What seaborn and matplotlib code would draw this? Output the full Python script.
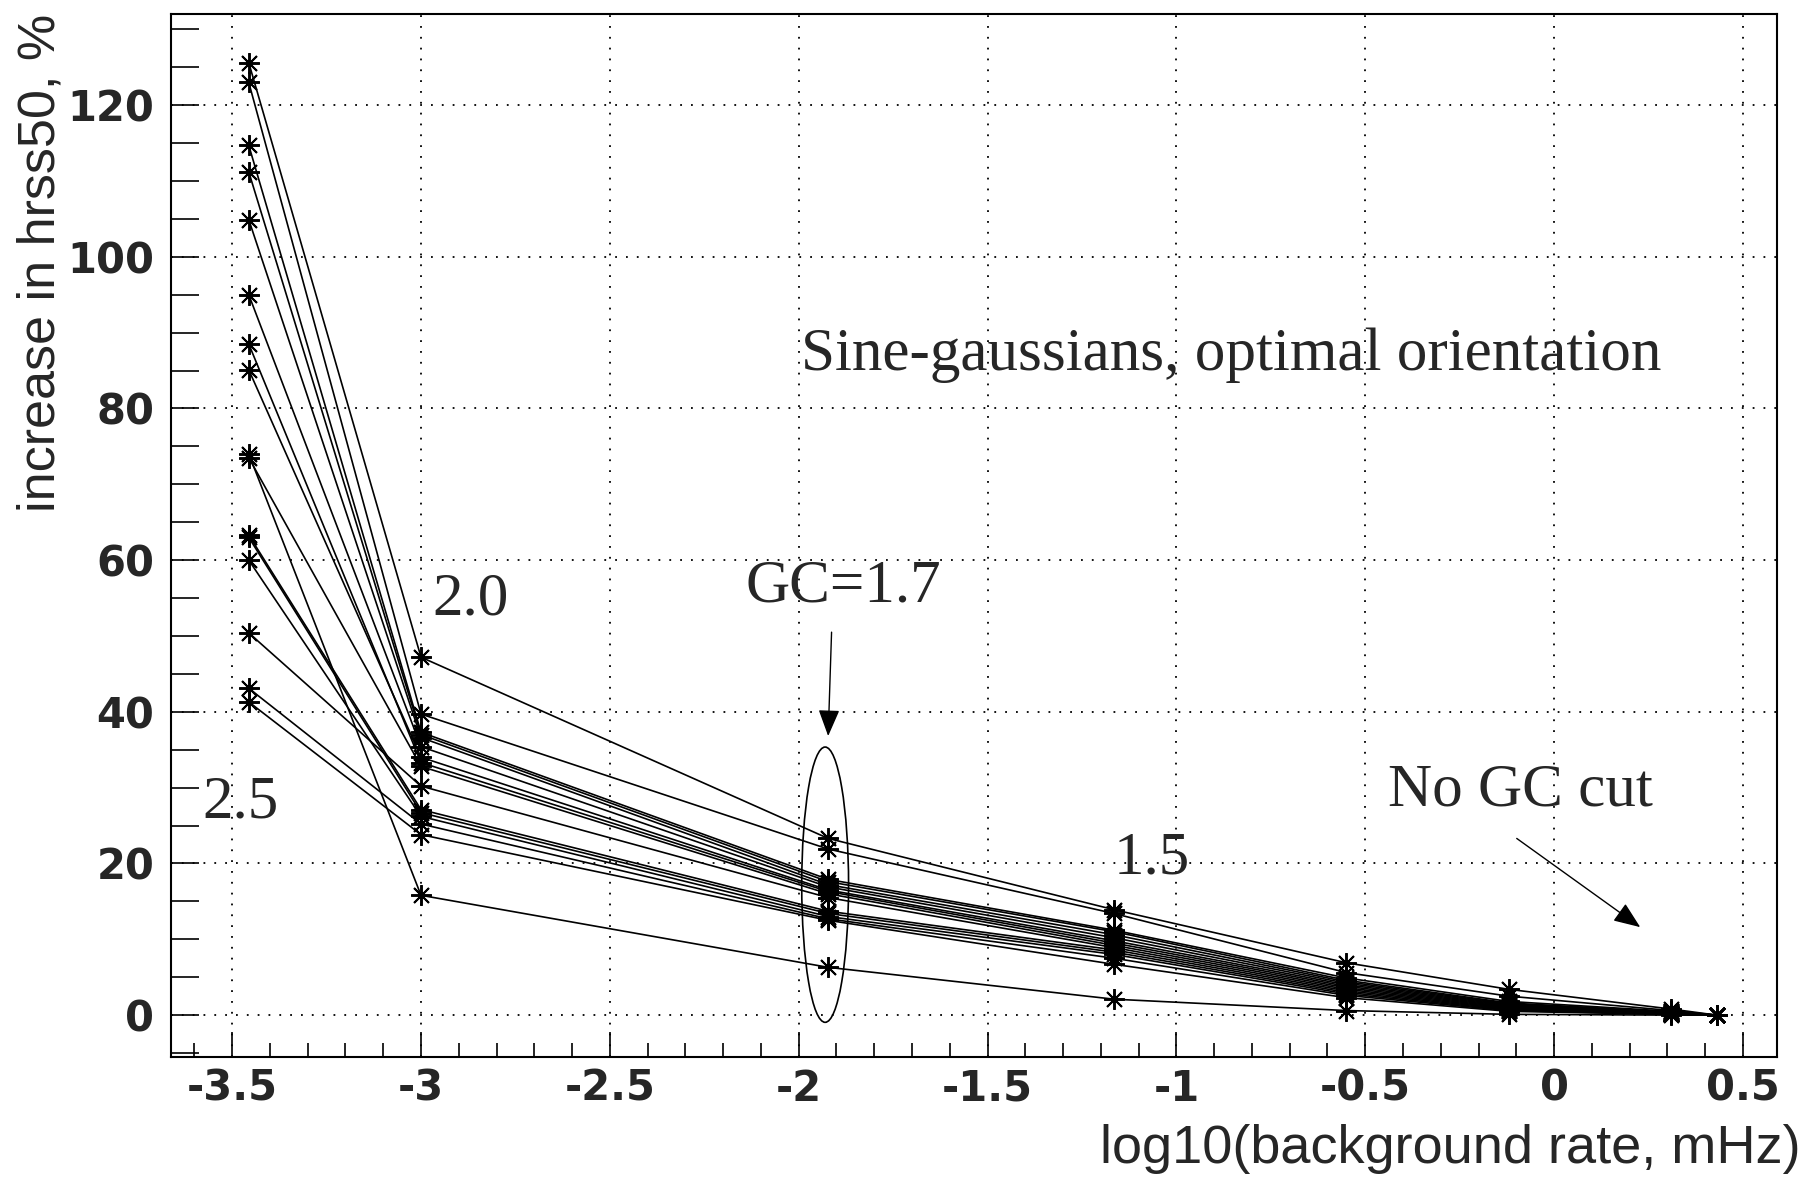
import numpy as np
import pandas as pd
import matplotlib
matplotlib.use("Agg")
import matplotlib.pyplot as plt
import seaborn as sns
from matplotlib.patches import Ellipse
from matplotlib.ticker import MultipleLocator, FuncFormatter

# log10(background rate, mHz) for each GC threshold (2.5, 2.0, 1.7, 1.5, ..., no cut)
log_rate = [-3.456, -3.0, -1.922, -1.165, -0.55, -0.12, 0.31, 0.43]

# increase in hrss50 (%) per waveform, one list per GC threshold
inc_gc2p5 = [125.6, 123.0, 114.7, 111.2, 104.9, 95.0, 85.1, 88.5, 73.5, 50.4, 63.3, 63.0, 60.0, 43.1, 41.3, 74.0]
inc_gc2p0 = [47.2, 39.7, 37.3, 37.0, 36.6, 35.4, 34.0, 33.3, 32.8, 30.2, 27.1, 26.7, 26.2, 25.2, 23.8, 15.8]
inc_gc1p7 = [23.3, 21.9, 17.9, 17.6, 17.2, 16.9, 16.5, 16.3, 16.0, 15.5, 13.7, 13.4, 13.0, 12.7, 12.5, 6.3]
inc_gc1p5 = [13.9, 13.4, 11.2, 11.0, 10.6, 10.2, 9.8, 9.5, 9.2, 8.9, 8.6, 8.3, 8.0, 7.5, 6.7, 2.1]
inc_cut5 = [6.9, 5.6, 4.9, 4.6, 4.4, 4.2, 4.0, 3.8, 3.6, 3.4, 3.2, 3.0, 2.8, 2.6, 2.3, 0.6]
inc_cut6 = [3.4, 2.5, 1.8, 1.6, 1.5, 1.4, 1.3, 1.2, 1.1, 1.0, 0.9, 0.8, 0.7, 0.6, 0.5, 0.1]
inc_cut7 = [0.8, 0.6, 0.5, 0.4, 0.4, 0.3, 0.3, 0.3, 0.2, 0.2, 0.2, 0.1, 0.1, 0.1, 0.1, 0.0]
inc_nocut = [0.0] * 16

columns = [inc_gc2p5, inc_gc2p0, inc_gc1p7, inc_gc1p5, inc_cut5, inc_cut6, inc_cut7, inc_nocut]
rows = []
for w in range(len(inc_gc2p5)):
    for xv, col in zip(log_rate, columns):
        rows.append({"rate": xv, "inc": col[w], "wf": w})
df = pd.DataFrame(rows)

sns.set_style("ticks")
plt.rcParams["axes.unicode_minus"] = False
plt.rcParams["font.family"] = ["Liberation Sans", "DejaVu Sans"]

fig = plt.figure(figsize=(18.11, 11.78), dpi=100)
ax = fig.add_axes([0.0944, 0.103, 0.981 - 0.0944, 0.988 - 0.103])

sns.lineplot(data=df, x="rate", y="inc", units="wf", estimator=None, sort=False,
             color="black", lw=1.2, marker=(8, 2, 0), markersize=15,
             markeredgewidth=1.4, markeredgecolor="black", legend=False, ax=ax)

ax.set_xlim(-3.662, 0.589)
ax.set_ylim(-5.48, 132.0)

ax.xaxis.set_major_locator(MultipleLocator(0.5))
ax.xaxis.set_minor_locator(MultipleLocator(0.1))
ax.yaxis.set_major_locator(MultipleLocator(20))
ax.yaxis.set_minor_locator(MultipleLocator(5))
ax.xaxis.set_major_formatter(FuncFormatter(lambda v, p: "%g" % round(v, 2)))
ax.yaxis.set_major_formatter(FuncFormatter(lambda v, p: "%g" % round(v, 2)))

ax.tick_params(axis="both", which="both", direction="in", top=False, right=False, color="black")
ax.tick_params(axis="x", which="major", length=18, width=1.2, pad=8)
ax.tick_params(axis="x", which="minor", length=10, width=1.2)
ax.tick_params(axis="y", which="major", length=20, width=1.2, pad=12)
ax.tick_params(axis="y", which="minor", length=20, width=1.2)
for lab in ax.get_xticklabels() + ax.get_yticklabels():
    lab.set_fontsize(30)
    lab.set_fontweight("bold")
    lab.set_family(["DejaVu Sans"])

ax.grid(True, which="major", color="black", linestyle=(0, (1, 5)), linewidth=1.3)
for sp in ax.spines.values():
    sp.set_linewidth(1.5)
    sp.set_color("black")

ax.set_xlabel("log10(background rate, mHz)", fontsize=39)
ax.xaxis.label.set_ha("right")
ax.xaxis.label.set_va("center")
ax.xaxis.set_label_coords(1.015, -0.089)
ax.set_ylabel("increase in hrss50, %", fontsize=37.5)
ax.yaxis.label.set_ha("right")
ax.yaxis.label.set_va("center")
ax.yaxis.set_label_coords(-0.081, 1.0)

serif = ["Liberation Serif", "DejaVu Serif"]
ts = 44
ax.text(-1.995, 85.1, "Sine-gaussians, optimal orientation", family=serif, fontsize=ts, va="baseline")
ax.text(-2.971, 52.8, "2.0", family=serif, fontsize=ts, va="baseline")
ax.text(-3.58, 26.0, "2.5", family=serif, fontsize=ts, va="baseline")
ax.text(-2.142, 54.5, "GC=1.7", family=serif, fontsize=ts, va="baseline")
ax.text(-1.167, 18.7, "1.5", family=serif, fontsize=ts, va="baseline")
ax.text(-0.439, 27.7, "No GC cut", family=serif, fontsize=ts, va="baseline")

arrow = dict(arrowstyle="-|>,head_length=0.5,head_width=0.2", mutation_scale=33,
             lw=1.0, color="black", shrinkA=0, shrinkB=0)
ax.annotate("", xy=(-1.922, 36.8), xytext=(-1.913, 50.5), arrowprops=arrow)
ax.annotate("", xy=(0.228, 11.6), xytext=(-0.099, 23.3), arrowprops=arrow)
ax.add_patch(Ellipse((-1.93, 17.2), width=0.124, height=36.3, fill=False, lw=1.2, color="black"))

fig.savefig("out.png", dpi=100)
